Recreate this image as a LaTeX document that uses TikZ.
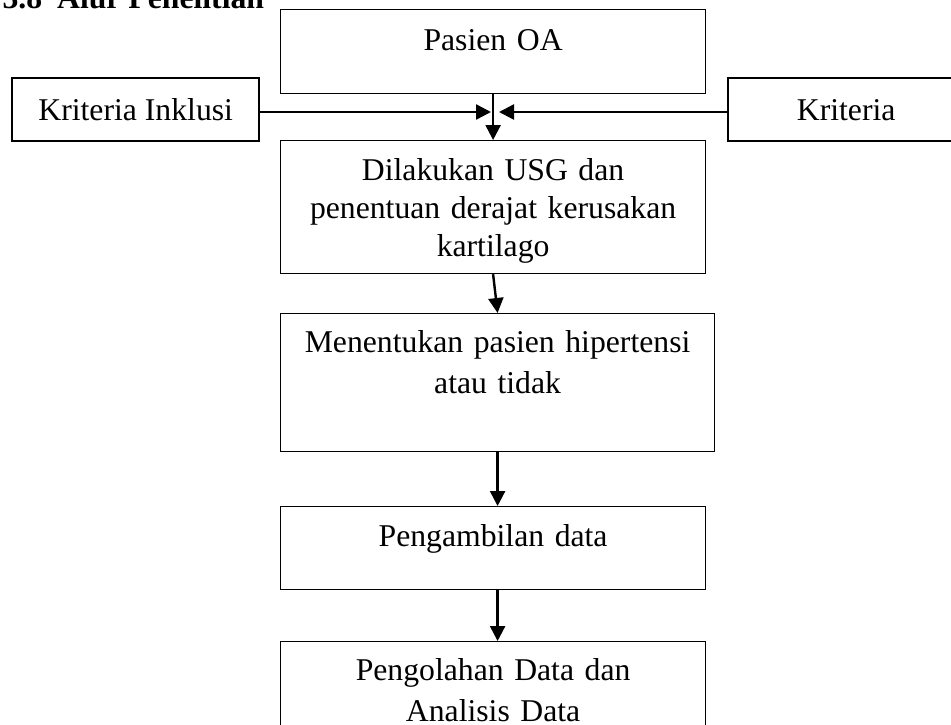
\documentclass[tikz,border=0pt]{standalone}
\usepackage{fontspec}
\setmainfont{Liberation Serif}
\usepackage{tikz}
\usetikzlibrary{arrows.meta}

\tikzset{
	box/.style={draw, line width=1.2pt, anchor=north west, inner sep=0pt, text width=425pt, align=center},
	sidebox/.style={draw, line width=2.4pt, anchor=north west, inner sep=0pt, minimum height=63pt},
	arr/.style={-{Triangle[length=15pt,width=15pt]}, line width=2.4pt},
}

\begin{document}
\begin{tikzpicture}[x=1pt, y=-1pt, font=\fontsize{31.7}{40}\selectfont]
	\useasboundingbox (0,0) rectangle (951,724);
	\clip (0,0) rectangle (951,724);
	\node (title) [anchor=base west, font=\fontsize{31.7}{40}\selectfont\bfseries] at (-1,8) {3.8\hspace{15pt}Alur Penelitian};
	% alur utama
	\node (pasien) [box, text height=41pt, text depth=43pt] at (280,9) {Pasien OA};
	\node (inklusi) [sidebox, minimum width=247pt] at (11,77) {Kriteria Inklusi};
	\node (eksklusi) [sidebox, minimum width=236pt] at (727,77) {Kriteria};
	\node (usg) [box, font=\fontsize{31.7}{38}\selectfont, text height=40pt, text depth=93pt] at (280,140) {Dilakukan USG dan\\penentuan derajat kerusakan\\kartilago};
	\node (hipertensi) [box, font=\fontsize{31.7}{41}\selectfont, text width=434pt, text height=39pt, text depth=99pt] at (280,313) {Menentukan pasien hipertensi\\atau tidak};
	\node (ambil) [box, text height=40pt, text depth=43pt] at (280,506) {Pengambilan data};
	\node (olah) [box, font=\fontsize{31.7}{41}\selectfont, text height=39pt, text depth=90pt] at (280,641) {Pengolahan Data dan\\Analisis Data};
	\coordinate (jl) at (491,112);
	\coordinate (jr) at (499,112);
	\path[arr]
	(inklusi.east |- jl) edge (jl)
	(eksklusi.west |- jr) edge (jr)
	(pasien.south) edge (usg.north)
	(usg.south) edge (hipertensi.north)
	(hipertensi.south) edge (hipertensi.south |- ambil.north)
	(hipertensi.south |- ambil.south) edge (hipertensi.south |- olah.north)
	;
\end{tikzpicture}
\end{document}
